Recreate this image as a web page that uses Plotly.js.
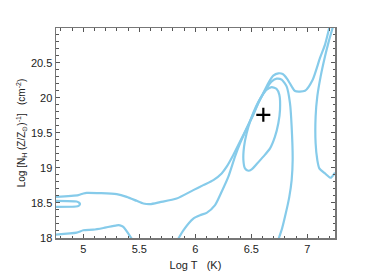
<!DOCTYPE html>
<html>
<head>
<meta charset="utf-8">
<script src="https://cdn.plot.ly/plotly-3.0.1.min.js"></script>
<style>html,body{margin:0;padding:0;background:#fff;}#chart{width:374px;height:280px;}</style>
</head>
<body>
<div id="chart"></div>
<script>
// Contour traces (log T, log N_H)
const outerX = [4.756,4.955,5.000,5.030,5.298,5.387,5.476,5.536,5.595,5.685,5.833,5.982,6.071,6.161,6.235,6.280,6.339,6.399,6.458,6.518,6.5625,6.607,6.652,6.696,6.741,6.780,6.821,6.860,6.890,6.979,7.048,7.113,7.158,7.196];
const outerY = [18.587,18.611,18.635,18.644,18.625,18.587,18.530,18.492,18.482,18.511,18.563,18.683,18.754,18.826,18.921,19.017,19.184,19.375,19.566,19.757,19.924,20.067,20.210,20.315,20.348,20.339,20.267,20.162,20.095,20.100,20.258,20.568,20.759,20.998];

const loopX = [4.756,4.940,4.964,4.970,4.958,4.935,4.756];
const loopY = [18.530,18.520,18.501,18.482,18.458,18.449,18.444];

const lowLeftX = [4.756,4.940,5.000,5.089,5.179,5.298,5.327,5.357,5.432];
const lowLeftY = [18.048,18.076,18.110,18.119,18.143,18.181,18.181,18.158,17.990];

const midX = [5.848,5.893,5.982,6.042,6.101,6.176,6.235,6.295,6.354,6.399,6.473,6.533,6.583,6.637,6.682,6.726,6.771,6.815,6.845,6.860,6.869,6.860,6.839,6.807,6.774,6.744];
const midY = [17.990,18.110,18.277,18.325,18.358,18.468,18.659,18.874,19.160,19.351,19.613,19.828,19.995,20.138,20.234,20.272,20.258,20.162,19.924,19.589,19.112,18.826,18.587,18.348,18.134,17.990];

const innerX = [6.682,6.726,6.750,6.756,6.741,6.711,6.667,6.607,6.548,6.503,6.473,6.443,6.429,6.435,6.458,6.494,6.542,6.592,6.637,6.682];
const innerY = [20.153,20.124,20.043,19.828,19.637,19.446,19.279,19.160,19.055,18.979,18.959,18.993,19.112,19.303,19.494,19.685,19.876,20.019,20.115,20.153];

const rightX = [7.226,7.188,7.158,7.119,7.089,7.074,7.074,7.089,7.107,7.158,7.208,7.247];
const rightY = [20.998,20.783,20.592,20.305,20.019,19.733,19.351,19.112,18.993,18.921,18.859,18.931];

const bestX = [6.607];
const bestY = [19.757];

const xTicks = [5, 5.5, 6, 6.5, 7];
const xTickText = ["5", "5.5", "6", "6.5", "7"];
const yTicks = [18, 18.5, 19, 19.5, 20, 20.5];
const yTickText = ["18", "18.5", "19", "19.5", "20", "20.5"];

const lineStyle = {color: '#86cbea', width: 2.2, shape: 'spline', smoothing: 0.6};
function contour(x, y) {
  return {x: x, y: y, type: 'scatter', mode: 'lines', line: lineStyle, hoverinfo: 'skip', showlegend: false};
}
const traces = [
  contour(outerX, outerY),
  contour(loopX, loopY),
  contour(lowLeftX, lowLeftY),
  contour(midX, midY),
  contour(innerX, innerY),
  contour(rightX, rightY),
  {x: bestX, y: bestY, type: 'scatter', mode: 'markers', showlegend: false,
   marker: {symbol: 'cross-thin', size: 10, color: '#000', line: {color: '#000', width: 2.2}}}
];

const font = {family: 'Liberation Sans, Arial, sans-serif', size: 11, color: '#222'};
const layout = {
  width: 374, height: 280,
  margin: {l: 56, r: 39, t: 28, b: 42},
  paper_bgcolor: '#fff', plot_bgcolor: '#fff',
  font: font,
  xaxis: {
    range: [4.756, 7.247], tickvals: xTicks, ticktext: xTickText,
    showgrid: false, zeroline: false, showline: true, linecolor: '#777', linewidth: 1.5,
    mirror: 'allticks', ticks: 'inside', ticklen: 4, tickwidth: 1, tickcolor: '#555',
    minor: {dtick: 0.1, ticks: 'inside', ticklen: 2.5, tickcolor: '#555', showgrid: false},
    tickfont: font,
    title: {text: 'Log T\u00a0\u00a0\u00a0(K)', font: font, standoff: 7}
  },
  yaxis: {
    range: [18, 20.995], tickvals: yTicks, ticktext: yTickText,
    showgrid: false, zeroline: false, showline: true, linecolor: '#777', linewidth: 1.5,
    mirror: 'allticks', ticks: 'inside', ticklen: 4, tickwidth: 1, tickcolor: '#555',
    minor: {dtick: 0.1, ticks: 'inside', ticklen: 2.5, tickcolor: '#555', showgrid: false},
    tickfont: font,
    title: {text: 'Log [N<sub>H</sub> (Z/Z<sub>\u2299</sub>)<sup>-1</sup>]\u00a0\u00a0\u00a0(cm<sup>-2</sup>)', font: {family: font.family, size: 10, color: '#222'}, standoff: 3}
  }
};
Plotly.newPlot('chart', traces, layout, {displayModeBar: false, staticPlot: true});
</script>
</body>
</html>
